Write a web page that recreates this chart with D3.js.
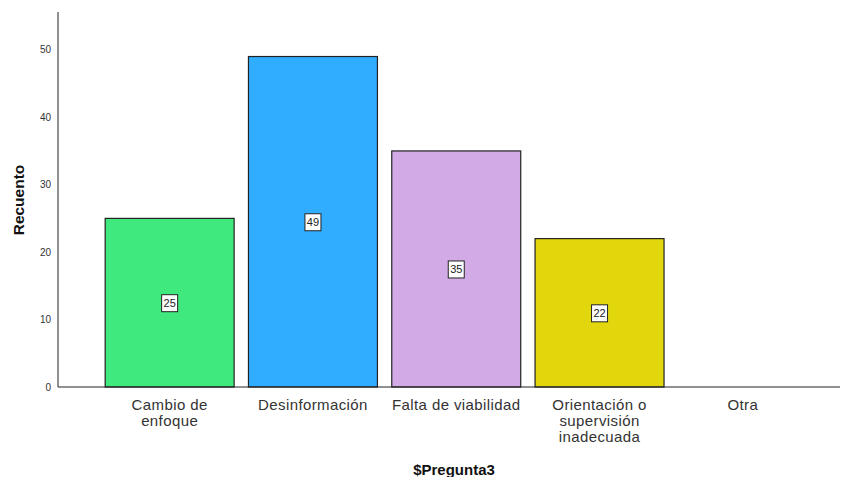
<!DOCTYPE html>
<html>
<head>
<meta charset="utf-8">
<script src="https://cdn.jsdelivr.net/npm/d3@7"></script>
<style>
  body { margin: 0; background: #fff; }
  text { font-family: "Liberation Sans", Arial, sans-serif; }
</style>
</head>
<body>
<svg id="chart" width="842" height="477"></svg>
<script>
// Data
const categories = ["Cambio de|enfoque", "Desinformación", "Falta de viabilidad", "Orientación o|supervisión|inadecuada", "Otra"];
const counts = [25, 49, 35, 22, 0];
const colors = ["#40e97e", "#31adff", "#d2abe6", "#e2d70d", "#ffffff"];
const yTicks = [0, 10, 20, 30, 40, 50];

const svg = d3.select("#chart"),
      x0 = 58, x1 = 840, yTop = 12, yBase = 387;

// Scales
const xScale = d3.scaleBand()
  .domain(categories)
  .range([98, 814.5])
  .paddingInner(0.1)
  .paddingOuter(0.05);
const yScale = d3.scaleLinear().domain([0, 55.6]).range([yBase, yTop]);

// Bars
const data = categories.map((c, i) => ({ cat: c, value: counts[i], color: colors[i] }));
svg.selectAll(".bar")
  .data(data.filter(d => d.value > 0))
  .join("rect")
  .attr("class", "bar")
  .attr("x", d => xScale(d.cat))
  .attr("y", d => yScale(d.value))
  .attr("width", xScale.bandwidth())
  .attr("height", d => yBase - yScale(d.value))
  .attr("fill", d => d.color)
  .attr("stroke", "#222")
  .attr("stroke-width", 1.2);

// Value labels in boxes
const lab = svg.selectAll(".vlabel")
  .data(data.filter(d => d.value > 0))
  .join("g")
  .attr("class", "vlabel")
  .attr("transform", d => `translate(${xScale(d.cat) + xScale.bandwidth() / 2},${yScale(d.value / 2)})`);
lab.append("rect")
  .attr("x", -8).attr("y", -8).attr("width", 16).attr("height", 17)
  .attr("fill", "#fff").attr("stroke", "#222").attr("stroke-width", 1);
lab.append("text")
  .attr("text-anchor", "middle").attr("dy", "0.36em")
  .style("font-size", "11px").attr("fill", "#222")
  .text(d => d.value);

// Y axis
const yAxis = svg.append("g").attr("transform", `translate(${x0},0)`)
  .call(d3.axisLeft(yScale).tickValues(yTicks).tickSize(0).tickPadding(7));
yAxis.select(".domain").attr("d", `M0,${yTop}V${yBase}`).attr("stroke", "#222");
yAxis.selectAll("text").style("font-size", "10px").attr("fill", "#333")
  .style("font-family", "'Liberation Sans', Arial, sans-serif");

// X axis
const xAxis = svg.append("g").attr("transform", `translate(0,${yBase})`)
  .call(d3.axisBottom(xScale).tickSize(0).tickFormat(""));
xAxis.select(".domain").attr("d", `M${x0},0H${x1}`).attr("stroke", "#222");

// X tick labels (multi-line)
svg.selectAll(".xlabel")
  .data(categories)
  .join("text")
  .attr("class", "xlabel")
  .attr("text-anchor", "middle")
  .attr("x", d => xScale(d) + xScale.bandwidth() / 2)
  .attr("y", 410)
  .style("font-size", "15px")
  .style("letter-spacing", "0.4px")
  .attr("fill", "#333")
  .each(function(d) {
    const t = d3.select(this);
    d.split("|").forEach((line, i) => {
      t.append("tspan")
        .attr("x", xScale(d) + xScale.bandwidth() / 2)
        .attr("dy", i === 0 ? 0 : 16)
        .text(line);
    });
  });

// Axis titles
svg.append("text")
  .attr("x", 454).attr("y", 475)
  .attr("text-anchor", "middle")
  .style("font-size", "15px").style("font-weight", "bold").attr("fill", "#111")
  .text("$Pregunta3");
svg.append("text")
  .attr("transform", `translate(24,200) rotate(-90)`)
  .attr("text-anchor", "middle")
  .style("font-size", "15.5px").style("font-weight", "bold").attr("fill", "#111")
  .text("Recuento");
</script>
</body>
</html>
